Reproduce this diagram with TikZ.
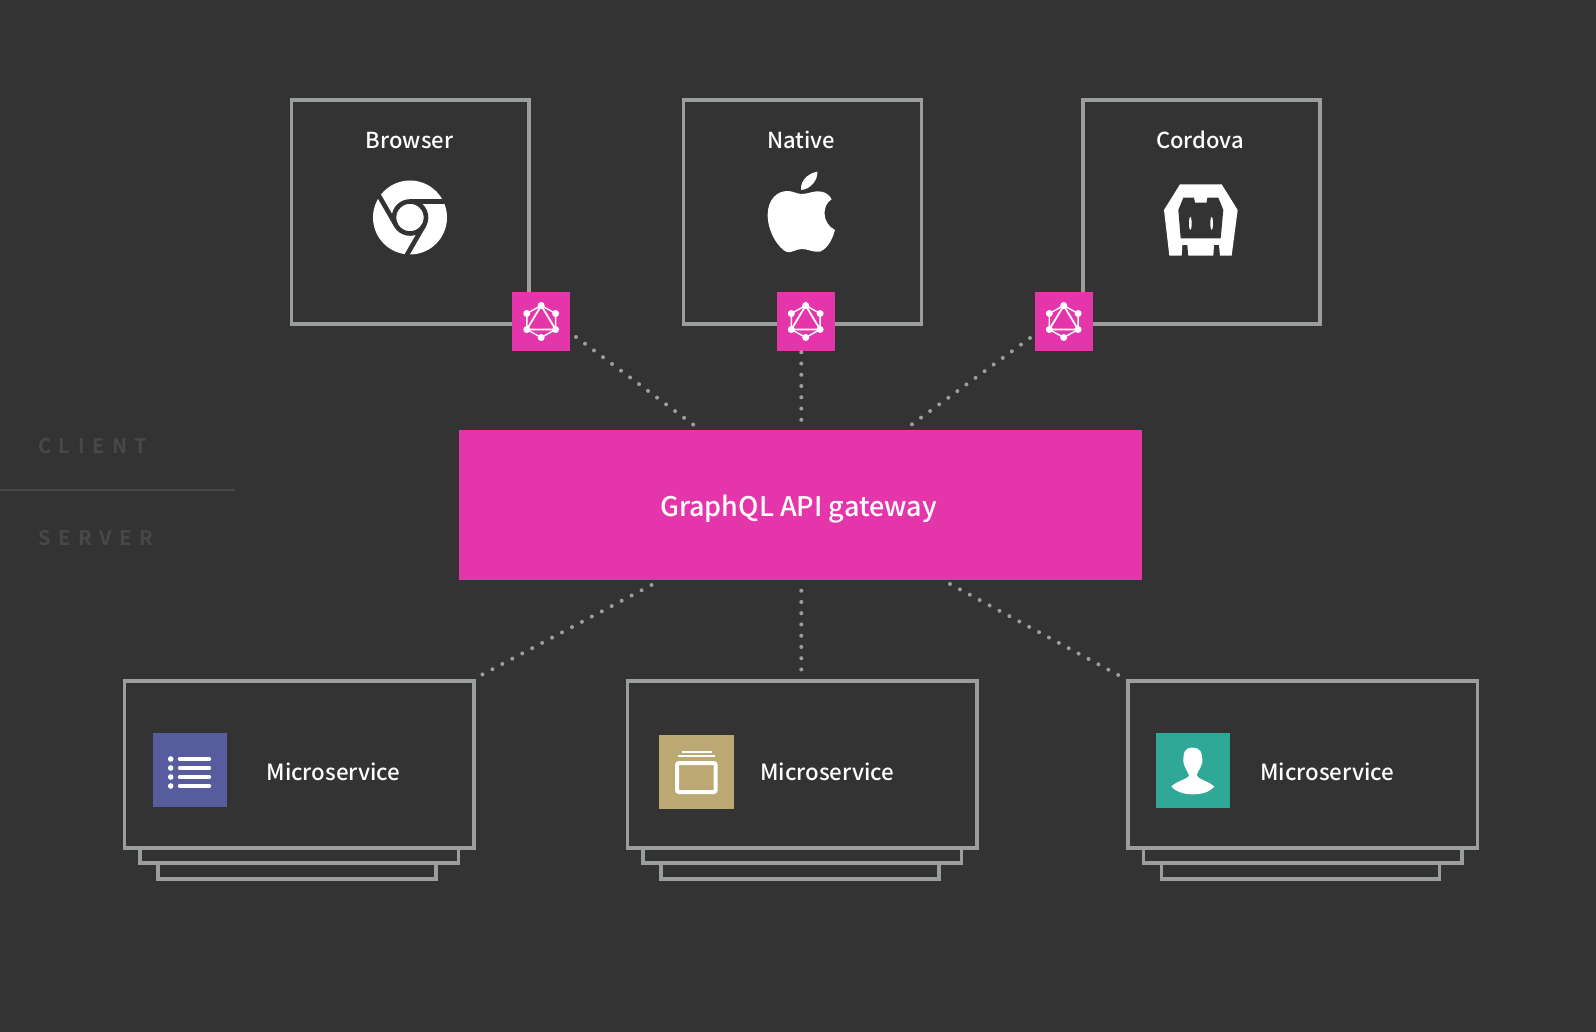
\documentclass[tikz,border=0pt]{standalone}
\usepackage{fontspec}
\newfontfamily\labfont{Noto Sans CJK SC Medium}
\newfontfamily\sidefont[LetterSpace=38]{Noto Sans CJK SC Bold}
\definecolor{bgc}{HTML}{333333}
\definecolor{framec}{HTML}{9A9E9C}
\definecolor{magentac}{HTML}{E535AB}
\definecolor{faint}{HTML}{484848}
\definecolor{listc}{HTML}{575C9E}
\definecolor{tanc}{HTML}{BBA872}
\definecolor{tealc}{HTML}{2FA898}
\tikzset{
  framebox/.style={draw=framec,line width=3.7pt,fill=bgc,inner sep=0pt,outer sep=0pt},
  badge/.style={fill=magentac,inner sep=0pt,outer sep=0pt,minimum size=58.4pt},
  gatewaybox/.style={fill=magentac,inner sep=0pt,outer sep=0pt,minimum width=683pt,minimum height=149.5pt},
  gatewaylab/.style={text=white,inner sep=0pt,anchor=base,font=\labfont\fontsize{27}{30}\selectfont},
  title/.style={text=white,font=\labfont\fontsize{22}{26}\selectfont,inner sep=0pt,anchor=base},
  svclabel/.style={text=white,font=\labfont\fontsize{22.3}{26}\selectfont,inner sep=0pt,anchor=base west},
  sidelabel/.style={text=faint,font=\sidefont\fontsize{20}{24}\selectfont,inner sep=0pt,anchor=base west},
  iconsq/.style={inner sep=0pt,outer sep=0pt,minimum size=74.3pt},
  dotline/.style={draw=framec,line width=4pt,line cap=round,dash pattern=on 0pt off 11.25pt},
}
\newcommand{\gqlicon}[1]{%
  \begin{scope}[shift={(#1)}]
    \draw[white,line width=1.4pt,line join=round]
      (0,-16) -- (14.4,-8) -- (14.4,8) -- (0,16) -- (-14.4,8) -- (-14.4,-8) -- cycle;
    \draw[white,line width=1.8pt,line join=round] (0,-16) -- (14.4,8) -- (-14.4,8) -- cycle;
    \foreach \px/\py in {0/-16,14.4/-8,14.4/8,0/16,-14.4/8,-14.4/-8}
      \fill[white] (\px,\py) circle (3.5);
  \end{scope}}
\newcommand{\stackbox}[2]{% name, x-offset
  \node[framebox,minimum width=278pt,minimum height=30pt] (#1c) at (297+#2,864) {};
  \node[framebox,minimum width=318.7pt,minimum height=30pt] (#1b) at (299.2+#2,848) {};
  \node[framebox,minimum width=349.5pt,minimum height=167pt] (#1) at (299.2+#2,764.5) {};}
\begin{document}
\begin{tikzpicture}[x=1pt,y=-1pt]
\useasboundingbox (0,0) rectangle (1596,1032);
\fill[bgc] (0,0) rectangle (1596,1032);

% side labels
\draw[faint,line width=2.4pt] (0,490) -- (235,490);
\node[sidelabel] (client) at (38,453.3) {CLIENT};
\node[sidelabel] (server) at (38,545) {SERVER};

% client boxes
\node[framebox,minimum width=237.7pt,minimum height=223.7pt] (browser) at (410.2,212.2) {};
\node[framebox,minimum width=238pt,minimum height=223.7pt] (native) at (802.5,212.2) {};
\node[framebox,minimum width=237pt,minimum height=223.7pt] (cordova) at (1201.5,212.2) {};
\node[title] (browserlab) at (409.5,148.7) {Browser};
\node[title] (nativelab) at (801,148.7) {Native};
\node[title] (cordovalab) at (1200,148.7) {Cordova};

% chrome icon
\begin{scope}[shift={(410,217.5)}]
  \fill[white] (0,0) circle (37);
  \begin{scope}
    \clip (0,0) circle (38);
    \draw[bgc,line width=4.6pt] (0,-16) -- (42,-16);
    \draw[bgc,line width=4.6pt] (-13.86,8) -- ++(-21,-36.4);
    \draw[bgc,line width=4.6pt] (13.86,8) -- ++(-21,36.4);
  \end{scope}
  \draw[bgc,line width=4.6pt] (0,0) circle (16);
\end{scope}

% apple icon
\begin{scope}[shift={(720,150)},scale=0.3333]
  \fill[white] (245,132) .. controls (265,132) and (285,120) .. (305,125)
    .. controls (320,128) and (330,138) .. (335,148)
    .. controls (305,165) and (305,220) .. (345,240)
    .. controls (338,265) and (325,295) .. (300,305)
    .. controls (280,308) and (265,297) .. (245,297)
    .. controls (228,297) and (215,310) .. (200,306)
    .. controls (175,295) and (143,245) .. (143,195)
    .. controls (143,150) and (170,122) .. (205,123)
    .. controls (220,124) and (232,132) .. (245,132) -- cycle;
  \fill[white] (243,120) .. controls (240,95) and (262,70) .. (292,65)
    .. controls (294,90) and (272,118) .. (243,120) -- cycle;
\end{scope}

% cordova icon
\begin{scope}[shift={(1130,160)},scale=0.3333]
  \fill[white] (150,73) -- (275,73) -- (323,150) -- (305,287) -- (270,287) -- (267,255) -- (252,255) -- (250,287)
    -- (175,287) -- (172,255) -- (157,255) -- (155,287) -- (118,287) -- (102,150) -- cycle;
  \fill[bgc] (160,113) -- (192,113) -- (195,128) -- (230,128) -- (232,113) -- (265,113) -- (280,150)
    -- (272,235) -- (152,235) -- (145,150) -- cycle;
  \fill[white] (181,190) ellipse (4 and 20);
  \fill[white] (245,190) ellipse (4 and 20);
\end{scope}

% gateway
\node[gatewaybox] (gateway) at (800.5,505.2) {};
\node[gatewaylab] (gatewaytext) at (798.5,516) {GraphQL API gateway};

% badges
\node[badge] (b1) at (541.2,321.5) {};
\node[badge] (b2) at (805.7,321.5) {};
\node[badge] (b3) at (1063.7,321.5) {};
\gqlicon{b1}\gqlicon{b2}\gqlicon{b3}

% connectors
\coordinate (b1e) at (576,337);
\coordinate (g1e) at (695,426);
\coordinate (b2e) at (801.3,352.3);
\coordinate (g2e) at (801.3,420.5);
\coordinate (b3e) at (1030,338);
\coordinate (g3e) at (911,425);
\draw[dotline] (b1e) -- (g1e);
\draw[dotline] (b2e) -- (g2e);
\draw[dotline] (b3e) -- (g3e);

% microservices
\stackbox{ms1}{0}
\stackbox{ms2}{503}
\stackbox{ms3}{1003.6}
\coordinate (g4e) at (651.5,585);
\coordinate (m1e) at (481.5,675);
\coordinate (g5e) at (801.3,590.7);
\coordinate (m2e) at (801.3,670);
\coordinate (g6e) at (950,584);
\coordinate (m3e) at (1120,676);
\draw[dotline] (g4e) -- (m1e);
\draw[dotline] (g5e) -- (m2e);
\draw[dotline] (g6e) -- (m3e);

% list icon
\node[iconsq,fill=listc] (ic1) at (189.7,770.3) {};
\foreach \yy in {759,768,777,786} {
  \fill[white] (170.7,\yy) circle (2.8);
  \draw[white,line width=3.4pt,line cap=round] (179.5,\yy) -- (209.5,\yy);
}
\node[svclabel] (l1) at (266.3,780) {Microservice};

% tan icon
\node[iconsq,fill=tanc] (ic2) at (696.4,772.2) {};
\draw[white,line width=4pt,rounded corners=2pt] (677,763) rectangle (715.7,792);
\draw[white,line width=1.7pt] (678.3,756) -- (715,756);
\draw[white,line width=1.7pt] (681.7,752) -- (711.7,752);
\node[svclabel] (l2) at (760,780) {Microservice};

% teal icon
\node[iconsq,fill=tealc] (ic3) at (1192.7,770.5) {};
\begin{scope}[shift={(1140,720)},scale=0.3333]
  \fill[white] (157,83) .. controls (135,83) and (130,95) .. (130,125)
    .. controls (132,140) and (140,150) .. (147,165)
    .. controls (145,178) and (110,182) .. (94,200)
    .. controls (110,217) and (135,223) .. (158,223)
    .. controls (185,223) and (208,217) .. (223,200)
    .. controls (205,182) and (172,178) .. (170,165)
    .. controls (176,150) and (185,140) .. (187,125)
    .. controls (187,95) and (180,83) .. (157,83) -- cycle;
\end{scope}
\node[svclabel] (l3) at (1260,780) {Microservice};
\end{tikzpicture}
\end{document}
